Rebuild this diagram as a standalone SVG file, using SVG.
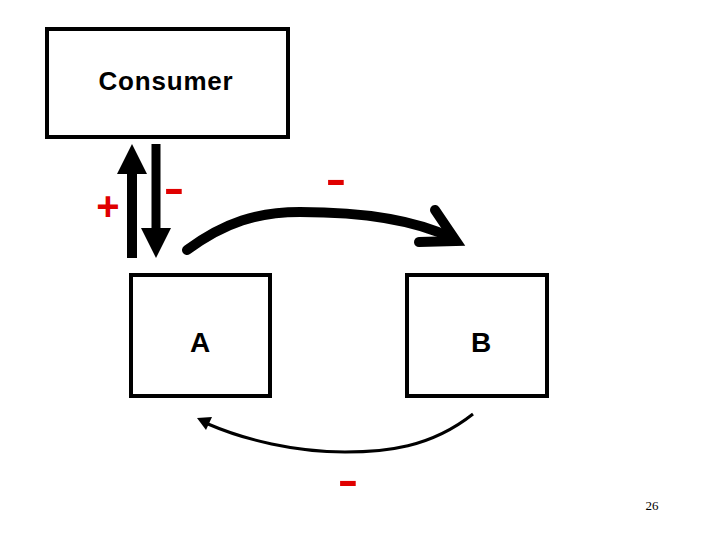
<svg xmlns="http://www.w3.org/2000/svg" width="720" height="540" viewBox="0 0 720 540">
<style>
.box{fill:#fff;stroke:#000;stroke-width:4}
.lbl{font-family:"Liberation Sans",Arial,sans-serif;font-weight:bold;fill:#000;text-anchor:middle}
.sign{font-family:"Liberation Sans",Arial,sans-serif;fill:#e00000;text-anchor:middle}
</style>
<rect width="720" height="540" fill="#fff"/>
<g id="consumer">
<rect class="box" x="47" y="29" width="241" height="108"/>
<text class="lbl" x="166" y="90" font-size="26" letter-spacing="0.8">Consumer</text>
</g>
<g id="nodeA">
<rect class="box" x="131" y="275" width="139" height="121"/>
<text class="lbl" x="200" y="352" font-size="28">A</text>
</g>
<g id="nodeB">
<rect class="box" x="407" y="275" width="140" height="121"/>
<text class="lbl" x="481" y="352" font-size="28">B</text>
</g>
<g id="connectors">
<rect x="127" y="170" width="10" height="88" fill="#000"/>
<polygon points="132,144 117,174 147,174" fill="#000"/>
<rect x="151.5" y="144" width="9" height="86" fill="#000"/>
<polygon points="141,228 171,228 156,258" fill="#000"/>
<path d="M187,250 C225,222 258,212 300,212 C360,212 415,220 452,238" fill="none" stroke="#000" stroke-width="10" stroke-linecap="round"/>
<polyline points="435,210 456,241 419,242" fill="none" stroke="#000" stroke-width="10" stroke-linecap="round" stroke-linejoin="miter"/>
<path d="M473,414 C430,448 385,452 345,452 C295,452 245,440 208,424" fill="none" stroke="#000" stroke-width="3"/>
<polygon points="197,418 212,417 206,430" fill="#000"/>
</g>
<g id="signs">
<text class="sign" x="108" y="220" font-size="40" font-weight="bold">+</text>
<text class="sign" x="174" y="209" font-size="64">-</text>
<text class="sign" x="336" y="200" font-size="64">-</text>
<text class="sign" x="348" y="501" font-size="64">-</text>
</g>
<text x="652" y="510" font-family="'Liberation Serif','Times New Roman',serif" font-size="13" text-anchor="middle" fill="#000">26</text>
</svg>
